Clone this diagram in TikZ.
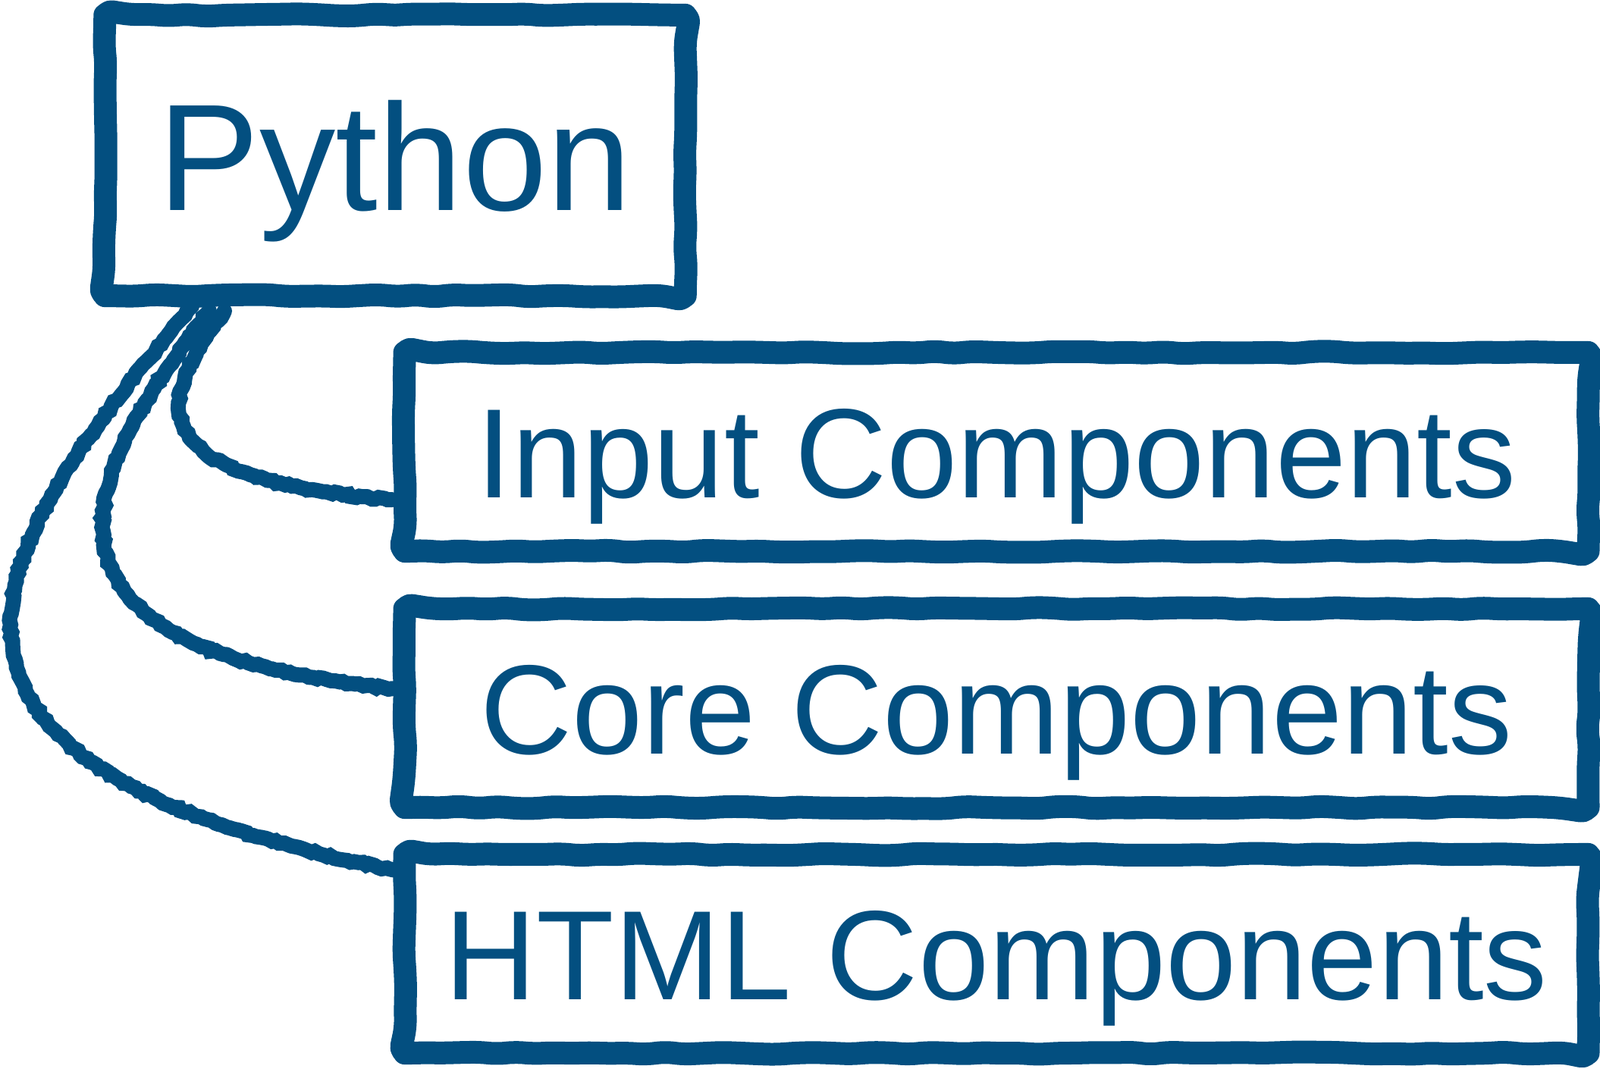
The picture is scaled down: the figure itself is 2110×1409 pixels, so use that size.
\documentclass[tikz,border=0pt]{standalone}
\usepackage{fontspec}
\setmainfont{Liberation Sans}
\usetikzlibrary{calc,decorations.pathmorphing}
\definecolor{plotlyblue}{RGB}{3,79,128}

\begin{document}
\begin{tikzpicture}[x=0.01cm, y=-0.01cm,
    sketchbox/.style={inner sep=0pt, outer sep=0pt, text=plotlyblue, text depth=0pt},
    bigbox/.style={sketchbox, minimum width=7.65cm, minimum height=3.7cm, font=\fontsize{57}{60}\selectfont, text height=1.44cm},
    compbox/.style={sketchbox, minimum width=15.6cm, minimum height=2.62cm, font=\fontsize{47.7}{50}\selectfont, text height=1.2cm},
    sketchedge/.style={draw=plotlyblue, line width=0.3cm, line join=round, line cap=round, decorate, decoration={random steps, segment length=7pt, amplitude=0.5pt}, rounded corners=3pt},
    chalk/.style={draw=plotlyblue, line width=0.2cm, line cap=round, decorate, decoration={random steps, segment length=1.5pt, amplitude=0.5pt}}]
    \useasboundingbox (0,0) rectangle (2110,1409);
    \node[bigbox] (py) at (521,205) {Python};
    \node[compbox] (inp) at (1314,596) {Input Components};
    \node[compbox] (core) at (1314,934) {Core Components};
    \node[compbox] (html) at (1314,1258) {HTML Components};
    \foreach \n in {py,inp,core,html}
        \draw[sketchedge] (\n.north) -- (\n.north east) -- (\n.south east) -- (\n.south west) -- (\n.north west) -- (\n.north);
    \draw[chalk] ($(py.south)+(-225,20)$) .. controls +(-71,98) and +(-370,-30) .. ($(inp.west)+(-17,63)$);
    \draw[chalk] ($(py.south)+(-245,20)$) .. controls +(-125,166) and +(-570,-57) .. ($(core.west)+(-17,-26)$);
    \draw[chalk] ($(py.south)+(-268,14)$) .. controls +(-244,294) and +(-745,-149) .. ($(html.west)+(-17,-111)$);
\end{tikzpicture}
\end{document}
